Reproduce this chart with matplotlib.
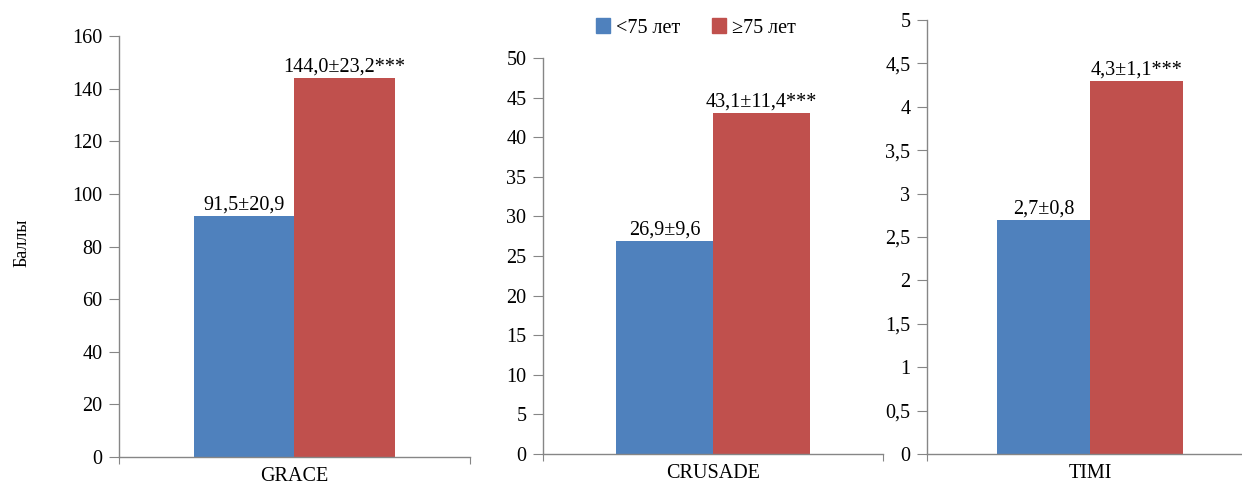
import numpy as np
import matplotlib
matplotlib.use("Agg")
import matplotlib.pyplot as plt
from matplotlib.patches import Patch

# Data
categories = ["GRACE", "CRUSADE", "TIMI"]
young_mean = [91.5, 26.9, 2.7]
young_sd = [20.9, 9.6, 0.8]
old_mean = [144.0, 43.1, 4.3]
old_sd = [23.2, 11.4, 1.1]
old_sig = ["***", "***", "***"]
series_names = ["<75 лет", "\u226575 лет"]
y_max = [160, 50, 5]
y_step = [20, 5, 0.5]

plt.rcParams["font.family"] = ["Liberation Serif", "DejaVu Serif"]

blue = "#4F81BD"
red = "#C0504D"
grey = "#868686"
fs = 14.5

def ru(v):
    return ("%g" % v).replace(".", ",")

def pm(m, s):
    return ("%.1f\u00b1%.1f" % (m, s)).replace(".", ",")

fig = plt.figure(figsize=(12.42, 4.84), dpi=100)

# axes boxes in figure fraction (left, bottom, width, height)
boxes = [
    (0.0958, 0.0558, 0.2826, 0.8698),
    (0.4372, 0.0620, 0.2738, 0.8182),
    (0.7464, 0.0620, 0.2625, 0.8967),
]

w = 0.285
for i, cat in enumerate(categories):
    ax = fig.add_axes(boxes[i])
    b1 = ax.bar(-w / 2, young_mean[i], width=w, color=blue)
    b2 = ax.bar(w / 2, old_mean[i], width=w, color=red)
    ax.bar_label(b1, labels=[pm(young_mean[i], young_sd[i])], padding=1, fontsize=fs)
    ax.bar_label(b2, labels=[pm(old_mean[i], old_sd[i]) + old_sig[i]], padding=1, fontsize=fs)

    ax.set_xlim(-0.5, 0.5)
    ax.set_ylim(0, y_max[i])
    yt = np.arange(0, y_max[i] + y_step[i] / 2, y_step[i])
    ax.set_yticks(yt)
    ax.set_yticklabels([ru(round(t, 2)) for t in yt], fontsize=fs)
    ax.set_xticks([-0.5, 0.5])
    ax.set_xticklabels(["", ""])
    ax.set_xticks([0], minor=True)
    ax.set_xticklabels([cat], minor=True, fontsize=fs)
    ax.tick_params(axis="x", which="minor", length=0, pad=7)
    ax.tick_params(axis="x", which="major", length=5, color=grey)
    ax.tick_params(axis="y", length=7, color=grey, pad=5)
    for s in ["top", "right"]:
        ax.spines[s].set_visible(False)
    for s in ["left", "bottom"]:
        ax.spines[s].set_color(grey)
        ax.spines[s].set_linewidth(1.0)

fig.text(22 / 1242, 1 - 243 / 484, "Баллы", rotation=90, ha="center", va="center", fontsize=13)

handles = [Patch(color=blue), Patch(color=red)]
fig.legend(handles, series_names, loc="center", bbox_to_anchor=(696 / 1242, 1 - 28 / 484),
           ncol=2, frameon=False, fontsize=fs, handlelength=0.7, handleheight=0.7,
           handletextpad=0.3, columnspacing=1.6)

fig.savefig("out.png", dpi=100)
